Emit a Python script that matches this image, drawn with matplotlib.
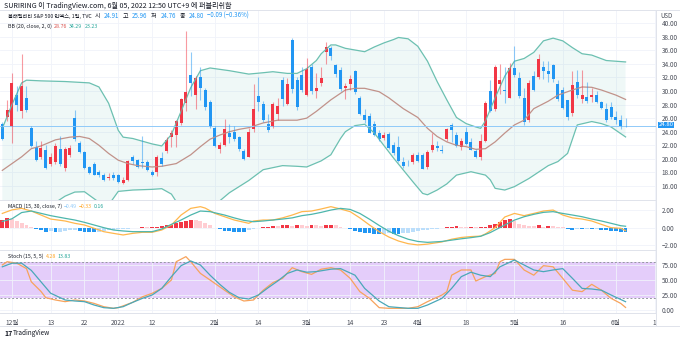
import matplotlib
matplotlib.use("Agg")
import matplotlib.pyplot as plt
from matplotlib.lines import Line2D
import numpy as np

plt.rcParams['font.family'] = ['Noto Sans CJK KR', 'DejaVu Sans']

# VIX daily candles, 2021-11-29 .. 2022-06-03
opens = [25.2, 26.1, 24.7, 29.4, 27.0, 28.9, 24.6, 21.8, 20.3, 21.3,
         19.3, 19.6, 21.5, 18.6, 20.56, 26.0, 22.3, 21.0, 18.85, 19.3,
         18.0, 17.6, 17.2, 17.6, 17.6, 16.5, 16.9, 20.3, 19.8, 19.6,
         19.6, 18.1, 18.0, 20.1, 21.1, 23.2, 23.5, 25.3, 28.2, 32.4,
         29.4, 32.1, 30.2, 28.4, 24.5, 21.5, 22.0, 23.8, 24.0, 23.2,
         21.2, 20.3, 24.35, 29.2, 28.1, 25.1, 24.75, 26.6, 31.7, 28.1,
         37.5, 31.7, 32.4, 29.4, 33.5, 30.0, 31.2, 35.8, 36.3, 33.8,
         33.1, 30.4, 31.0, 32.9, 29.0, 26.4, 26.3, 25.1, 23.8, 23.0,
         23.7, 22.0, 21.8, 19.6, 19.4, 19.6, 20.6, 20.6, 18.8, 21.3,
         21.9, 21.3, 22.9, 25.0, 23.5, 21.7, 23.9, 22.5, 21.2, 20.2,
         22.7, 30.0, 27.3, 31.1, 30.1, 29.0, 33.4, 31.9, 29.0, 25.8,
         32.2, 32.0, 33.6, 32.9, 33.8, 31.1, 30.15, 28.7, 26.7, 31.4,
         28.8, 29.1, 29.1, 29.4, 28.4, 27.4, 27.6, 26.1, 25.8, 24.91]
highs = [25.5, 28.7, 32.6, 30.7, 35.5, 30.7, 24.8, 22.6, 22.6, 22.1,
         20.8, 22.4, 23.4, 21.7, 22.1, 27.2, 22.6, 21.2, 19.0, 19.5,
         18.3, 17.9, 17.9, 18.0, 17.8, 17.3, 19.9, 20.6, 20.0, 23.3,
         19.9, 18.4, 20.5, 21.0, 23.2, 24.3, 25.8, 29.0, 38.9, 35.8,
         32.2, 33.6, 30.5, 28.7, 24.8, 22.5, 25.9, 25.2, 24.9, 23.4,
         21.4, 24.5, 31.1, 32.1, 28.5, 26.6, 28.4, 28.9, 32.0, 31.9,
         37.8, 32.0, 33.6, 34.9, 34.0, 32.6, 33.5, 37.2, 36.6, 34.0,
         33.5, 31.2, 32.3, 33.1, 29.2, 27.3, 26.8, 25.6, 24.2, 23.9,
         24.0, 22.5, 23.3, 20.2, 19.9, 20.8, 21.0, 20.9, 21.3, 23.8,
         22.6, 22.0, 24.6, 25.3, 24.0, 23.0, 24.7, 23.0, 21.5, 23.6,
         28.5, 31.6, 33.9, 34.0, 33.6, 34.2, 36.6, 32.8, 30.4, 31.7,
         33.0, 35.4, 34.5, 34.4, 34.0, 31.7, 30.6, 28.7, 32.9, 33.1,
         33.1, 31.3, 30.5, 30.0, 28.6, 28.3, 28.4, 27.0, 26.4, 25.96]
lows = [22.8, 25.6, 22.4, 27.0, 26.0, 26.9, 21.7, 19.7, 20.0, 18.5,
        19.0, 19.3, 19.0, 18.2, 20.2, 22.7, 20.9, 18.5, 17.7, 17.6,
        17.3, 16.8, 16.9, 16.9, 16.5, 16.3, 16.7, 19.3, 18.6, 18.6,
        18.2, 17.5, 17.4, 19.0, 20.9, 21.7, 21.8, 25.0, 27.0, 29.3,
        27.3, 28.7, 27.2, 24.6, 21.7, 20.9, 21.9, 22.3, 22.6, 21.1,
        19.9, 20.2, 24.0, 27.0, 25.5, 23.9, 24.6, 25.8, 27.8, 27.9,
        29.7, 27.2, 29.9, 29.2, 29.6, 28.9, 30.8, 34.0, 34.6, 32.0,
        30.0, 28.8, 30.2, 29.6, 26.4, 25.3, 23.8, 23.3, 22.7, 22.8,
        21.4, 20.6, 19.5, 18.6, 18.9, 19.3, 19.5, 18.5, 18.5, 21.0,
        21.1, 20.8, 22.7, 22.5, 21.7, 21.3, 22.0, 21.3, 20.1, 19.9,
        22.5, 26.9, 27.0, 29.5, 28.2, 28.9, 32.0, 29.0, 25.0, 25.5,
        30.0, 31.8, 31.8, 31.4, 31.3, 28.5, 27.3, 25.8, 26.3, 29.0,
        28.2, 28.2, 28.4, 28.2, 27.3, 25.5, 25.9, 25.2, 24.4, 24.76]
closes = [22.96, 27.19, 31.12, 27.95, 30.67, 27.18, 21.89, 19.90, 21.58, 18.69,
          20.31, 21.89, 19.29, 21.40, 21.57, 22.87, 21.05, 18.63, 17.96, 17.68,
          17.60, 16.95, 17.33, 17.22, 16.60, 16.91, 19.73, 19.61, 18.76, 19.40,
          18.41, 17.62, 20.31, 19.19, 22.79, 23.85, 25.59, 28.85, 29.90, 31.16,
          31.96, 30.49, 27.66, 24.83, 21.96, 22.09, 24.35, 23.22, 22.86, 21.44,
          19.96, 23.91, 27.36, 28.33, 25.70, 24.29, 28.11, 27.75, 28.81, 31.02,
          30.32, 27.59, 30.15, 33.32, 29.98, 30.48, 31.98, 36.45, 35.13, 32.45,
          30.23, 30.75, 31.77, 29.83, 26.67, 25.67, 23.87, 23.53, 22.94, 23.57,
          21.67, 20.81, 19.63, 18.90, 19.33, 20.56, 19.63, 18.57, 21.03, 22.10,
          21.55, 21.16, 24.37, 24.26, 21.82, 22.70, 22.17, 21.37, 20.32, 22.68,
          28.21, 27.02, 33.52, 31.60, 29.99, 33.40, 32.34, 29.25, 25.42, 31.20,
          30.19, 34.75, 32.99, 32.56, 31.77, 28.87, 27.47, 26.10, 30.96, 29.35,
          29.43, 28.48, 29.45, 28.37, 27.50, 25.72, 26.19, 25.69, 24.89, 24.80]

# Bollinger Bands (20, close, 2) read per bar index
bb_up_idx = [0, 2, 4, 5, 8, 13, 18, 20, 22, 24, 25, 27, 31, 33, 35, 37, 39, 41, 43, 47,
             51, 54, 56, 59, 61, 63, 65, 66, 68, 69, 71, 75, 77, 79, 81, 82, 84, 86, 88, 90,
             92, 94, 96, 98, 99, 100, 102, 104, 106, 108, 110, 112, 114, 116, 118, 120, 122, 125, 129]
bb_up = [24.5, 28.0, 31.2, 31.6, 31.5, 31.4, 31.2, 30.6, 28.2, 24.2, 23.2, 23.0, 22.2, 21.9, 23.6, 27.0, 30.5, 33.0, 33.4, 33.0,
         32.5, 32.7, 32.85, 32.6, 32.6, 33.3, 34.5, 35.5, 36.8, 36.8, 36.3, 35.8, 36.5, 37.1, 37.6, 37.9, 37.7, 36.6, 34.4, 31.4,
         28.7, 26.1, 25.2, 24.7, 24.5, 25.6, 29.0, 32.2, 34.4, 34.8, 35.7, 37.4, 37.8, 37.4, 36.4, 35.5, 35.3, 34.5, 34.29]
bb_mid_idx = [0, 4, 6, 8, 11, 14, 16, 18, 20, 22, 24, 26, 28, 31, 33, 36, 39, 41, 43, 45,
              47, 49, 51, 54, 57, 61, 63, 65, 68, 71, 73, 75, 78, 80, 83, 86, 88, 90, 92, 94,
              96, 98, 100, 102, 104, 106, 108, 110, 113, 115, 118, 120, 122, 124, 127, 129]
bb_mid = [18.3, 20.3, 21.5, 21.9, 22.8, 23.2, 23.3, 23.0, 22.0, 20.8, 19.8, 19.3, 19.0, 18.8, 18.9, 19.3, 20.6, 21.8, 22.9, 23.5,
          24.0, 24.35, 24.6, 25.3, 25.7, 25.7, 26.0, 27.0, 28.7, 30.15, 30.4, 30.4, 29.9, 29.0, 27.4, 26.1, 24.5, 23.3, 22.5, 22.0,
          21.8, 21.4, 21.5, 22.5, 23.8, 25.0, 25.7, 27.4, 28.5, 29.4, 30.15, 30.6, 30.55, 30.15, 29.4, 28.76]
bb_lo_idx = [0, 5, 10, 13, 15, 17, 20, 22, 24, 27, 31, 33, 35, 37, 39, 41, 43, 45, 47, 49,
             51, 54, 58, 61, 63, 66, 68, 70, 71, 73, 75, 77, 81, 85, 87, 88, 90, 92, 94, 97,
             100, 101, 102, 104, 106, 109, 113, 115, 117, 119, 122, 124, 126, 129]
bb_lo = [12.1, 10.4, 13.1, 14.5, 15.1, 15.15, 13.6, 13.2, 15.2, 15.4, 15.5, 15.6, 14.8, 12.6, 10.7, 10.6, 12.4, 13.8, 15.0, 15.9,
         16.8, 18.4, 19.0, 18.9, 18.8, 19.7, 20.6, 23.0, 24.0, 24.9, 25.1, 23.8, 20.1, 16.6, 14.9, 14.7, 15.4, 16.3, 17.6, 18.1,
         17.6, 16.9, 15.65, 15.4, 15.9, 17.1, 19.0, 19.6, 20.8, 25.0, 25.5, 25.2, 24.7, 23.23]

# MACD (15, 30, close, 7)
macd_idx = [0, 2, 4, 6, 8, 10, 13, 15, 17, 19, 21, 23, 25, 27, 29, 31, 33, 35, 37, 39,
            41, 42, 44, 46, 48, 51, 52, 54, 56, 58, 60, 62, 64, 66, 68, 70, 72, 74, 76, 78,
            80, 82, 84, 86, 88, 91, 93, 95, 97, 99, 100, 102, 103, 104, 106, 108, 110, 112, 114, 116,
            118, 120, 122, 124, 126, 128, 129]
macd_line = [1.6, 2.0, 2.17, 1.87, 1.42, 0.97, 0.75, 0.49, 0.3, -0.07, -0.45, -0.64, -0.82, -0.64, -0.52, -0.52, -0.26, 0.3, 1.42, 2.17,
             2.36, 2.2, 1.6, 1.23, 0.86, 0.49, 0.75, 0.86, 0.86, 1.1, 1.42, 1.8, 1.87, 2.1, 2.36, 2.1, 1.8, 1.1, 0.3, -0.45,
             -1.05, -1.5, -1.8, -1.94, -1.85, -1.6, -1.3, -1.1, -1.0, -0.95, -0.7, 0.0, 0.6, 1.2, 1.6, 1.35, 1.6, 1.87, 1.98, 1.42,
             1.1, 0.97, 0.75, 0.37, 0.0, -0.07, -0.33]
sig_idx = [0, 2, 4, 6, 8, 10, 13, 15, 17, 19, 21, 23, 25, 27, 29, 31, 33, 35, 37, 39,
           41, 43, 46, 48, 50, 52, 54, 56, 58, 60, 62, 64, 66, 68, 70, 72, 74, 76, 78, 80,
           82, 84, 86, 88, 91, 93, 95, 97, 99, 101, 104, 106, 108, 110, 112, 114, 116, 118, 120, 122,
           124, 126, 128, 129]
sig_line = [0.7, 1.0, 1.7, 1.87, 1.61, 1.35, 1.05, 0.86, 0.6, 0.3, 0.0, -0.26, -0.37, -0.45, -0.45, -0.45, -0.15, 0.37, 0.86, 1.42,
            1.87, 1.8, 1.42, 1.1, 0.82, 0.67, 0.75, 0.86, 0.97, 1.1, 1.35, 1.5, 1.72, 1.98, 2.17, 2.05, 1.6, 0.95, 0.25, -0.4,
            -0.9, -1.3, -1.55, -1.65, -1.55, -1.4, -1.25, -1.12, -0.97, -0.55, 0.3, 0.85, 1.23, 1.5, 1.72, 1.8, 1.6, 1.42, 1.23, 0.97,
            0.75, 0.49, 0.22, 0.16]
macd_hist = [0.9, 1.05, 1.0, 0.75, 0.55, 0.35, 0.1, -0.1, -0.3, -0.45,
             -0.4, -0.5, -0.45, -0.35, -0.3, -0.25, -0.4, -0.45, -0.5, -0.5,
             -0.45, -0.35, -0.3, -0.25, -0.2, -0.15, -0.1, -0.05, -0.02, 0.05,
             0.02, 0.05, 0.1, 0.15, 0.25, 0.35, 0.5, 0.65, 0.8, 0.9,
             0.85, 0.75, 0.5, 0.25, -0.05, -0.2, -0.35, -0.4, -0.45, -0.45,
             -0.5, -0.3, -0.15, -0.05, 0.05, 0.1, 0.2, 0.15, 0.25, 0.3,
             0.2, 0.3, 0.25, 0.15, 0.3, 0.25, 0.2, 0.3, 0.35, 0.3,
             0.1, -0.05, -0.15, -0.35, -0.5, -0.6, -0.65, -0.7, -0.72, -0.68,
             -0.65, -0.68, -0.72, -0.65, -0.55, -0.45, -0.4, -0.3, -0.22, -0.15,
             -0.1, -0.05, 0.05, 0.1, 0.15, 0.12, 0.05, 0.08, 0.04, 0.05,
             0.1, 0.25, 0.45, 0.65, 0.9, 0.95, 0.7, 0.4, 0.3, 0.2,
             0.15, 0.25, 0.1, 0.2, 0.15, 0.1, 0.05, -0.2, -0.25, -0.1,
             -0.15, -0.1, -0.2, -0.15, -0.25, -0.3, -0.35, -0.4, -0.45, -0.49]

# Stochastic (15, 5, 5)
k_idx = [0, 1, 3, 5, 6, 8, 9, 11, 13, 15, 17, 19, 21, 23, 24, 27, 29, 31, 33, 35,
         36, 38, 39, 41, 43, 46, 48, 50, 52, 54, 56, 58, 60, 62, 64, 66, 68, 70, 72, 74,
         76, 78, 80, 84, 86, 88, 91, 92, 93, 95, 97, 98, 100, 102, 103, 104, 106, 108, 110, 112,
         114, 116, 118, 120, 122, 124, 126, 128, 129]
stoch_k = [75, 80.5, 78, 69, 47, 31, 20.5, 16.7, 13.9, 16.7, 15, 11, 5.5, 2.8, 3.9, 12.8, 22, 27.8, 36, 50,
           80.5, 88.9, 80.5, 61, 50, 33, 22, 15, 16.7, 33, 45.6, 52.8, 70.5, 63.9, 59.4, 68, 70.5, 66.7, 52.8, 30.6,
           19.4, 3.9, 2.8, 2.8, 5.5, 13.9, 25, 30.6, 58, 66.7, 66.7, 48.3, 55.6, 61, 80.5, 84.4, 84.4, 66.7, 58, 73.9,
           72, 52.8, 33, 30.6, 42.8, 33, 19.4, 11, 4.28]
d_idx = [0, 2, 4, 6, 8, 10, 13, 15, 17, 19, 21, 23, 25, 27, 29, 31, 33, 35, 37, 39,
         41, 43, 45, 47, 49, 51, 53, 55, 57, 59, 61, 63, 65, 68, 70, 73, 75, 78, 80, 84,
         86, 88, 91, 93, 95, 97, 99, 101, 103, 106, 108, 110, 112, 114, 116, 118, 120, 122, 124, 126,
         129]
stoch_d = [72, 78, 78, 66, 47, 28, 16.7, 15, 13.9, 8.3, 3.9, 2.8, 5.5, 12.8, 19.4, 25, 36, 55.6, 73.9, 81.7,
           75, 58, 42.8, 29.4, 20.5, 18.3, 25, 37, 48.3, 61, 66.7, 63, 64, 68, 69, 58, 36, 15, 5.5, 2.8,
           2.8, 8.3, 19.4, 36, 55.6, 63, 58, 55.6, 72, 83.3, 75, 66.7, 63.9, 66.7, 69, 52.8, 36, 35, 33, 25,
           13.83]

tick_idx = [2, 10, 17, 24, 31, 44, 53, 63, 72, 79, 86, 96, 106, 116, 127, 135]
tick_labels = ['12월', '13', '22', '2022', '12', '2월', '14', '3월', '14', '23', '4월', '18', '5월', '16', '6월', '1']
price_ticks = [16, 18, 20, 22, 24, 26, 28, 30, 32, 34, 36, 38, 40]
last_price = 24.80

UP, DOWN = '#f23645', '#2196f3'
GRID = '#f0f3fa'
TXT = '#131722'
AXT = '#4a4e59'

fig = plt.figure(figsize=(6.8, 3.41), dpi=100)
W, H = 680, 341


def px_axes(top, bottom):
    return fig.add_axes([0.0, 1 - bottom / H, 656 / W, (bottom - top) / H])


ax_p = px_axes(10, 200)
ax_m = px_axes(200, 250)
ax_s = px_axes(250, 313)

n = len(closes)
xs = np.arange(n)
xlim = (-0.48, 135.3)

for ax in (ax_p, ax_m, ax_s):
    ax.set_xlim(*xlim)
    for s in ax.spines.values():
        s.set_color('#e0e3eb')
        s.set_linewidth(0.7)
    ax.spines['left'].set_visible(False)
    ax.yaxis.tick_right()
    ax.tick_params(axis='y', length=0, labelsize=4.6, labelcolor=AXT, pad=4)
    ax.tick_params(axis='x', length=0, labelbottom=False)
    ax.set_xticks(tick_idx)
    ax.grid(True, color=GRID, linewidth=0.6)
    ax.set_axisbelow(True)

# --- price panel ---
ax_p.set_ylim(13.93, 41.95)
ax_p.set_yticks(price_ticks)
ax_p.set_yticklabels(['%.2f' % v for v in price_ticks])

poly_x = np.concatenate([bb_up_idx, bb_lo_idx[::-1]])
poly_y = np.concatenate([bb_up, bb_lo[::-1]])
ax_p.fill(poly_x, poly_y, color='#26a69a', alpha=0.07, lw=0)
ax_p.plot(bb_up_idx, bb_up, color='#6cc0b1', lw=0.9)
ax_p.plot(bb_lo_idx, bb_lo, color='#6cc0b1', lw=0.9)
ax_p.plot(bb_mid_idx, bb_mid, color='#c1928a', lw=0.9)

ax_p.axhline(last_price, color='#90caf9', lw=0.7)

o = np.array(opens)
c = np.array(closes)
cols = [UP if cc >= oo else DOWN for oo, cc in zip(o, c)]
ax_p.vlines(xs, lows, highs, colors=cols, lw=0.8, alpha=0.5)
body_lo = np.minimum(o, c)
body_h = np.maximum(np.abs(c - o), 0.08)
ax_p.bar(xs, body_h, bottom=body_lo, width=0.62, color=cols, lw=0)

# last price tag on the price scale
ax_p.text(1.004, (last_price - 13.93) / (41.95 - 13.93) + 0.008, '%.2f' % last_price,
          transform=ax_p.transAxes, fontsize=4.3, color='white', va='center', ha='left',
          bbox=dict(boxstyle='square,pad=0.1', fc=DOWN, ec='none'), zorder=5)

# --- MACD panel ---
ax_m.set_ylim(-2.51, 3.11)
ax_m.set_yticks([-2, 0, 2])
ax_m.set_yticklabels(['−2.00', '0.00', '2.00'])
h = np.array(macd_hist)
hcols = []
for i, v in enumerate(h):
    prev = h[i - 1] if i > 0 else v
    if v >= 0:
        hcols.append('#f23645' if v >= prev else '#ffcdd2')
    else:
        hcols.append('#2196f3' if v <= prev else '#bbdefb')
ax_m.bar(xs, h, width=0.8, color=hcols, lw=0)
ax_m.plot(macd_idx, macd_line, color='#ffb74d', lw=0.9)
ax_m.plot(sig_idx, sig_line, color='#4db6ac', lw=0.9)

# --- Stoch panel ---
ax_s.set_ylim(-5, 100)
ax_s.set_yticks([0, 25, 50, 75])
ax_s.set_yticklabels(['0.00', '25.00', '50.00', '75.00'])
ax_s.axhspan(20, 80, color='#e4cdfa', lw=0, zorder=0.5)
for lvl in (20, 80):
    ax_s.axhline(lvl, color='#9598a1', lw=0.7, ls=(0, (2, 2)))
ax_s.plot(k_idx, stoch_k, color='#f7a35c', lw=0.9)
ax_s.plot(d_idx, stoch_d, color='#4aa8b8', lw=0.9)
ax_s.tick_params(axis='x', labelbottom=True, labelsize=4.8, labelcolor=AXT, pad=4)
ax_s.set_xticklabels(tick_labels)

# frame lines
fig.add_artist(Line2D([0, 1], [1 - 326 / H] * 2, color='#e0e3eb', lw=0.7))
fig.add_artist(Line2D([656 / W] * 2, [1 - 326 / H, 1 - 10 / H], color='#e0e3eb', lw=0.7))
fig.add_artist(Line2D([0, 1], [1 - 10 / H] * 2, color='#e0e3eb', lw=0.7))

# header and legends
fig.text(4 / W, 1 - 6 / H, 'SURIRING 이 TradingView.com, 6월 05, 2022 12:50 UTC+9 에 퍼블리쉬함',
         fontsize=5.1, color=TXT, va='center')
fig.text(660 / W, 1 - 16 / H, 'USD', fontsize=4.4, color=AXT, va='center')

renderer = fig.canvas.get_renderer()


def legend_row(y, parts, size, gap, x0=8):
    x = x0 / W
    for txt, col in parts:
        t = fig.text(x, 1 - y / H, txt, fontsize=size, color=col, va='center')
        bb = t.get_window_extent(renderer=renderer)
        x += (bb.width + gap) / W


legend_row(16, [('볼래틸리티 S&P 500 인덱스, 1일, TVC', TXT)], 3.8, 3)
legend_row(16, [('시', TXT), ('24.91', DOWN), ('고', TXT), ('25.96', DOWN), ('저', TXT), ('24.76', DOWN),
                ('종', TXT), ('24.80', DOWN), ('−0.09 (−0.36%)', DOWN)], 4.4, 3.5, x0=95)
legend_row(26, [('BB (20, close, 2, 0)', TXT), ('28.76', '#d9534f'), ('34.29', '#26a69a'), ('23.23', '#26a69a')], 3.8, 2)
legend_row(206, [('MACD (15, 30, close, 7)', TXT), ('−0.49', '#90caf9'), ('−0.33', '#ffa726'), ('0.16', '#26a69a')], 3.8, 2)
legend_row(256, [('Stoch (15, 5, 5)', TXT), ('4.28', '#ffa726'), ('13.83', '#26a69a')], 3.8, 2)

fig.text(4 / W, 1 - 333 / H, '17', fontsize=5, weight='bold', color=TXT, va='center')
fig.text(13 / W, 1 - 333 / H, 'TradingView', fontsize=4.6, color=TXT, va='center')

fig.savefig('out.png', dpi=100)
